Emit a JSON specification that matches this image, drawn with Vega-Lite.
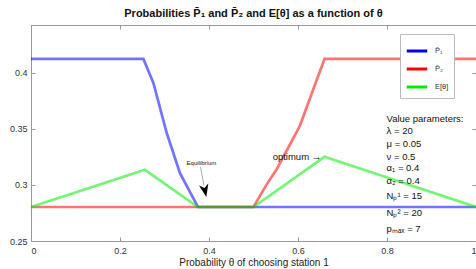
{
  "$schema": "https://vega.github.io/schema/vega-lite/v6.json",
  "autosize": "none",
  "width": 445,
  "height": 216,
  "padding": {"left": 31, "top": 25, "right": 0, "bottom": 28},
  "background": "white",
  "config": {
    "font": "Liberation Sans",
    "view": {"stroke": "#999999"},
    "axis": {
      "grid": false,
      "domainColor": "#999999",
      "tickColor": "#999999",
      "tickSize": -4,
      "labelFont": "Liberation Sans",
      "labelFontSize": 9,
      "labelColor": "#333333",
      "titleFont": "Liberation Sans",
      "titleFontWeight": "normal",
      "titleColor": "#222222"
    }
  },
  "title": {
    "text": "Probabilities P̄₁ and P̄₂ and E[θ] as a function of θ",
    "fontSize": 11,
    "fontWeight": "bold",
    "font": "Liberation Sans",
    "color": "#111111",
    "anchor": "middle",
    "offset": 6
  },
  "datasets": {
    "curves": [
      {"s": "P̄₁", "x": 0, "y": 0.4122},
      {"s": "P̄₁", "x": 0.2526, "y": 0.4122},
      {"s": "P̄₁", "x": 0.275, "y": 0.3908},
      {"s": "P̄₁", "x": 0.305, "y": 0.3462},
      {"s": "P̄₁", "x": 0.3348, "y": 0.3104},
      {"s": "P̄₁", "x": 0.375, "y": 0.2803},
      {"s": "P̄₁", "x": 1, "y": 0.2803},
      {"s": "P̄₂", "x": 0, "y": 0.2803},
      {"s": "P̄₂", "x": 0.5, "y": 0.2803},
      {"s": "P̄₂", "x": 0.529, "y": 0.3},
      {"s": "P̄₂", "x": 0.5514, "y": 0.3134},
      {"s": "P̄₂", "x": 0.6036, "y": 0.352},
      {"s": "P̄₂", "x": 0.6596, "y": 0.4122},
      {"s": "P̄₂", "x": 1, "y": 0.4122},
      {"s": "E[θ]", "x": 0, "y": 0.2803},
      {"s": "E[θ]", "x": 0.256, "y": 0.3134},
      {"s": "E[θ]", "x": 0.375, "y": 0.2803},
      {"s": "E[θ]", "x": 0.5, "y": 0.2803},
      {"s": "E[θ]", "x": 0.6596, "y": 0.325},
      {"s": "E[θ]", "x": 1, "y": 0.2803}
    ],
    "params": [
      {"t": "Value parameters:", "x": 0.799, "y": 0.3589},
      {"t": "λ = 20", "x": 0.799, "y": 0.3476},
      {"t": "μ = 0.05", "x": 0.799, "y": 0.3363},
      {"t": "ν = 0.5", "x": 0.799, "y": 0.3252},
      {"t": "α₁ = 0.4", "x": 0.799, "y": 0.3154},
      {"t": "α₂ = 0.4", "x": 0.799, "y": 0.3036},
      {"t": "Nₚ¹ = 15", "x": 0.799, "y": 0.2905},
      {"t": "Nₚ² = 20", "x": 0.799, "y": 0.2748},
      {"t": "pₘₐₓ = 7", "x": 0.799, "y": 0.2607}
    ]
  },
  "layer": [
    {
      "data": {"name": "curves"},
      "mark": {"type": "line", "strokeWidth": 2.7, "opacity": 0.55},
      "encoding": {
        "x": {
          "field": "x", "type": "quantitative",
          "scale": {"domain": [0, 1], "nice": false},
          "axis": {"values": [0, 0.2, 0.4, 0.6, 0.8, 1], "format": "~g", "labelPadding": 9, "title": "Probability θ of choosing station 1", "titleFontSize": 10, "titlePadding": 2}
        },
        "y": {
          "field": "y", "type": "quantitative",
          "scale": {"domain": [0.25, 0.4424], "nice": false, "zero": false},
          "axis": {"values": [0.25, 0.3, 0.35, 0.4], "format": "~g", "labelPadding": 8, "title": null}
        },
        "color": {
          "field": "s", "type": "nominal",
          "sort": ["P̄₁", "P̄₂", "E[θ]"],
          "scale": {"domain": ["P̄₁", "P̄₂", "E[θ]"], "range": ["#0000ff", "#ff0000", "#00ee00"]},
          "legend": {
            "title": null,
            "orient": "none",
            "legendX": 369,
            "legendY": 9,
            "symbolType": "stroke",
            "symbolSize": 420,
            "symbolStrokeWidth": 3,
            "symbolOpacity": 1,
            "labelFontSize": 7.5,
            "labelFont": "Liberation Sans",
            "labelColor": "#333333",
            "labelOffset": 6,
            "rowPadding": 0,
            "padding": 5,
            "strokeColor": "#bbbbbb",
            "fillColor": "white"
          }
        }
      }
    },
    {
      "data": {"name": "params"},
      "mark": {"type": "text", "align": "left", "baseline": "middle", "fontSize": 9.5, "font": "Liberation Sans", "color": "#111111"},
      "encoding": {
        "x": {"field": "x", "type": "quantitative", "axis": null},
        "y": {"field": "y", "type": "quantitative", "axis": null},
        "text": {"field": "t"}
      }
    },
    {
      "data": {"values": [{"t": "optimum →", "x": 0.543, "y": 0.3247}]},
      "mark": {"type": "text", "align": "left", "baseline": "middle", "fontSize": 9.5, "font": "Liberation Sans", "color": "#111111"},
      "encoding": {
        "x": {"field": "x", "type": "quantitative", "axis": null},
        "y": {"field": "y", "type": "quantitative", "axis": null},
        "text": {"field": "t"}
      }
    },
    {
      "data": {"values": [{"t": "Equilibrium", "x": 0.383, "y": 0.3194}]},
      "mark": {"type": "text", "align": "center", "baseline": "middle", "fontSize": 6, "font": "Liberation Sans", "color": "#111111"},
      "encoding": {
        "x": {"field": "x", "type": "quantitative", "axis": null},
        "y": {"field": "y", "type": "quantitative", "axis": null},
        "text": {"field": "t"}
      }
    },
    {
      "data": {"values": [{"x": 0.381, "y": 0.3158, "x2": 0.3886, "y2": 0.2995}]},
      "mark": {"type": "rule", "color": "#888888", "strokeWidth": 0.7},
      "encoding": {
        "x": {"field": "x", "type": "quantitative", "axis": null},
        "y": {"field": "y", "type": "quantitative", "axis": null},
        "x2": {"field": "x2"},
        "y2": {"field": "y2"}
      }
    },
    {
      "data": {"values": [{"x": 0.391, "y": 0.2948}]},
      "mark": {"type": "point", "shape": "M0,1L-0.75,-1L0,-0.45L0.75,-1Z", "filled": true, "color": "black", "opacity": 1, "size": 160, "angle": -12},
      "encoding": {
        "x": {"field": "x", "type": "quantitative", "axis": null},
        "y": {"field": "y", "type": "quantitative", "axis": null}
      }
    },
    {
      "data": {"values": [{"x": 0, "y": 0.25}]},
      "mark": {"type": "point", "opacity": 0},
      "encoding": {
        "x": {"field": "x", "type": "quantitative",
          "axis": {"orient": "top", "values": [0, 0.2, 0.4, 0.6, 0.8, 1], "labels": false, "title": null}},
        "y": {"field": "y", "type": "quantitative",
          "axis": {"orient": "right", "values": [0.25, 0.3, 0.35, 0.4], "labels": false, "title": null}}
      }
    }
  ],
  "resolve": {"axis": {"x": "independent", "y": "independent"}}
}
